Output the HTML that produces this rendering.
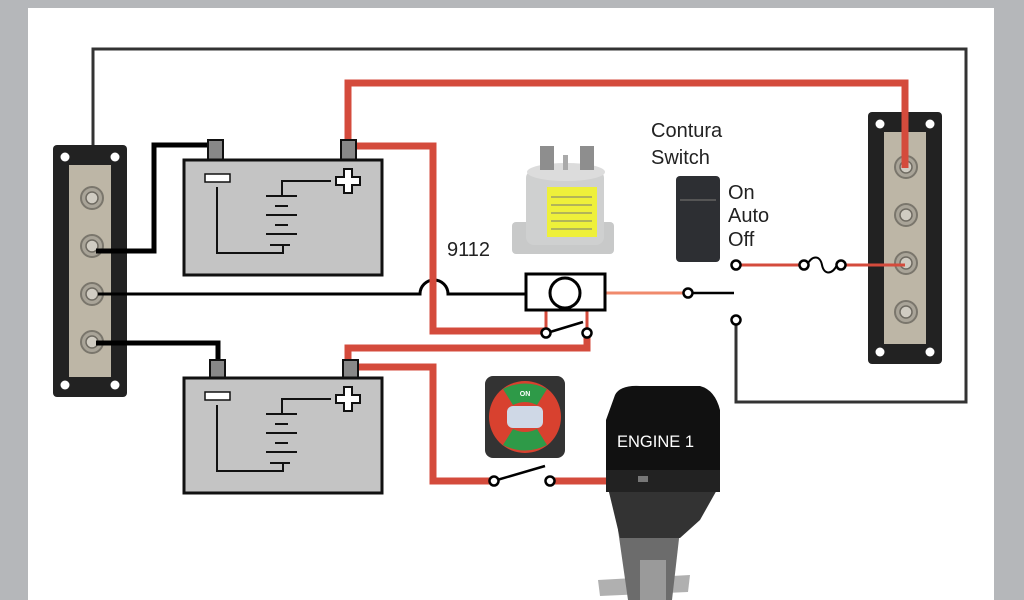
<!DOCTYPE html>
<html><head><meta charset="utf-8"><style>
html,body{margin:0;padding:0;background:#b5b7ba;}
svg{display:block;}
text{font-family:"Liberation Sans",sans-serif;}
</style></head><body>
<svg width="1024" height="600" viewBox="0 0 1024 600" xmlns="http://www.w3.org/2000/svg">
<defs>
<g id="bat">
  <rect x="0" y="0" width="198" height="115" fill="#c4c4c4" stroke="#111" stroke-width="3"/>
  <rect x="21" y="14" width="25" height="8" fill="#fff" stroke="#111" stroke-width="1.5"/>
  <polyline points="33,27 33,93 99,93 99,85" fill="none" stroke="#111" stroke-width="2"/>
  <line x1="86" y1="85" x2="106" y2="85" stroke="#111" stroke-width="2"/>
  <line x1="82" y1="36" x2="113" y2="36" stroke="#111" stroke-width="2"/>
  <line x1="91" y1="46" x2="104" y2="46" stroke="#111" stroke-width="2"/>
  <line x1="82" y1="55" x2="113" y2="55" stroke="#111" stroke-width="2"/>
  <line x1="91" y1="65" x2="104" y2="65" stroke="#111" stroke-width="2"/>
  <line x1="82" y1="74" x2="113" y2="74" stroke="#111" stroke-width="2"/>
  <polyline points="98,36 98,21 147,21" fill="none" stroke="#111" stroke-width="2"/>
  <path d="M160,9 h8 v8 h8 v8 h-8 v8 h-8 v-8 h-8 v-8 h8 z" fill="#fff" stroke="#111" stroke-width="2"/>
</g>
<g id="stud">
  <circle r="11" fill="#a9a498" stroke="#7a766c" stroke-width="2"/>
  <circle r="6" fill="#d0ccc2" stroke="#6f6b62" stroke-width="1.5"/>
</g>
<g id="bus">
  <rect x="0" y="0" width="74" height="252" rx="4" fill="#222"/>
  <rect x="16" y="20" width="42" height="212" fill="#bdb6a6"/>
  <circle cx="12" cy="12" r="4.5" fill="#fff"/><circle cx="62" cy="12" r="4.5" fill="#fff"/>
  <circle cx="12" cy="240" r="4.5" fill="#fff"/><circle cx="62" cy="240" r="4.5" fill="#fff"/>
</g>
</defs>
<rect x="28" y="8" width="966" height="592" fill="#fff"/>

<polyline points="93,165 93,49 966,49 966,402 736,402 736,325" fill="none" stroke="#333" stroke-width="3"/>

<use href="#bus" x="53" y="145"/>
<use href="#stud" x="92" y="198"/><use href="#stud" x="92" y="246"/><use href="#stud" x="92" y="294"/><use href="#stud" x="92" y="342"/>
<use href="#bus" x="868" y="112"/>
<use href="#stud" x="906" y="167"/><use href="#stud" x="906" y="215"/><use href="#stud" x="906" y="263"/><use href="#stud" x="906" y="312"/>

<polyline points="96,251 154,251 154,145 212,145" fill="none" stroke="#000" stroke-width="5"/>
<polyline points="96,343 218,343 218,362" fill="none" stroke="#000" stroke-width="5"/>
<path d="M98,294 H420 A14,14 0 0 1 448,294 H525" fill="none" stroke="#000" stroke-width="3"/>

<g fill="none" stroke="#d44b3c" stroke-width="7">
<polyline points="348,142 348,83 905,83 905,168"/>
<polyline points="356,146 433,146 433,331 545,331"/>
<polyline points="348,362 348,348 587,348 587,333"/>
<polyline points="356,367 433,367 433,481 493,481"/>
<line x1="550" y1="481" x2="606" y2="481"/>
</g>
<g stroke="#d44b3c" stroke-width="3">
<line x1="546" y1="310" x2="546" y2="330"/><line x1="587" y1="310" x2="587" y2="330"/>
<line x1="740" y1="265" x2="800" y2="265"/><line x1="843" y1="265" x2="905" y2="265"/>
</g>
<line x1="581" y1="293" x2="684" y2="293" stroke="#f08a6c" stroke-width="3"/>

<rect x="208" y="140" width="15" height="21" fill="#888" stroke="#111" stroke-width="2"/>
<rect x="341" y="140" width="15" height="21" fill="#888" stroke="#111" stroke-width="2"/>
<use href="#bat" x="184" y="160"/>
<rect x="210" y="360" width="15" height="19" fill="#888" stroke="#111" stroke-width="2"/>
<rect x="343" y="360" width="15" height="19" fill="#888" stroke="#111" stroke-width="2"/>
<use href="#bat" x="184" y="378"/>

<rect x="526" y="274" width="79" height="36" fill="#fff" stroke="#000" stroke-width="3"/>
<circle cx="565" cy="293" r="15" fill="#fff" stroke="#000" stroke-width="3"/>
<line x1="550" y1="332" x2="583" y2="322" stroke="#000" stroke-width="2.5"/>
<circle cx="546" cy="333" r="4.5" fill="#fff" stroke="#000" stroke-width="2.5"/>
<circle cx="587" cy="333" r="4.5" fill="#fff" stroke="#000" stroke-width="2.5"/>

<line x1="692" y1="293" x2="734" y2="293" stroke="#000" stroke-width="2.5"/>
<circle cx="688" cy="293" r="4.5" fill="#fff" stroke="#000" stroke-width="2.5"/>
<circle cx="736" cy="265" r="4.5" fill="#fff" stroke="#000" stroke-width="2.5"/>
<circle cx="736" cy="320" r="4.5" fill="#fff" stroke="#000" stroke-width="2.5"/>
<path d="M807,265 C812,255 820,255 822,265 C824,275 832,275 837,265" fill="none" stroke="#000" stroke-width="2"/>
<circle cx="804" cy="265" r="4.5" fill="#fff" stroke="#000" stroke-width="2.5"/>
<circle cx="841" cy="265" r="4.5" fill="#fff" stroke="#000" stroke-width="2.5"/>

<line x1="497" y1="480" x2="545" y2="466" stroke="#000" stroke-width="2.5"/>
<circle cx="494" cy="481" r="4.5" fill="#fff" stroke="#000" stroke-width="2.5"/>
<circle cx="550" cy="481" r="4.5" fill="#fff" stroke="#000" stroke-width="2.5"/>

<!-- relay image -->
<rect x="512" y="222" width="102" height="32" rx="4" fill="#c8c9c9"/>
<rect x="526" y="170" width="78" height="75" rx="8" fill="#cfd0d0"/>
<ellipse cx="566" cy="172" rx="39" ry="9" fill="#dcdcdc"/>
<rect x="540" y="146" width="14" height="24" fill="#8e8e8e"/><rect x="580" y="146" width="14" height="24" fill="#8e8e8e"/>
<rect x="563" y="155" width="5" height="15" fill="#aaa"/>
<rect x="547" y="187" width="50" height="50" fill="#eef03a"/>
<g stroke="#777" stroke-width="1"><line x1="551" y1="197" x2="592" y2="197"/><line x1="551" y1="205" x2="592" y2="205"/><line x1="551" y1="213" x2="592" y2="213"/><line x1="551" y1="221" x2="592" y2="221"/><line x1="551" y1="229" x2="592" y2="229"/></g>

<rect x="676" y="176" width="44" height="86" rx="4" fill="#2d2f33"/>
<line x1="680" y1="200" x2="716" y2="200" stroke="#555" stroke-width="2"/>

<rect x="485" y="376" width="80" height="82" rx="8" fill="#333"/>
<circle cx="525" cy="417" r="36" fill="#d8412f"/>
<path d="M503,389 Q525,378 547,389 L537,405 Q525,399 513,405 Z" fill="#2e9a48"/>
<path d="M503,445 Q525,456 547,445 L537,429 Q525,435 513,429 Z" fill="#2e9a48"/>
<rect x="507" y="406" width="36" height="22" rx="6" fill="#cfd8e6"/>
<text x="525" y="396" font-size="7" fill="#fff" text-anchor="middle" font-weight="bold">ON</text>

<!-- engine -->
<path d="M598,580 L690,575 L688,592 L600,596 Z" fill="#b0b0b0"/>
<path d="M618,530 L680,530 L672,600 L628,600 Z" fill="#6c6c6c"/>
<rect x="640" y="560" width="26" height="40" fill="#9a9a9a"/>
<path d="M608,488 L718,488 L700,520 L680,538 L620,538 Z" fill="#333"/>
<path d="M615,395 Q620,385 640,386 L700,386 Q715,390 720,410 L720,488 L606,490 L606,420 Z" fill="#111"/>
<rect x="606" y="470" width="114" height="22" fill="#222"/>
<rect x="638" y="476" width="10" height="6" fill="#777"/>
<text x="617" y="447" font-size="16.5" fill="#fff">ENGINE 1</text>

<text x="447" y="256" font-size="20" fill="#222">9112</text>
<text x="651" y="137" font-size="20" fill="#222">Contura</text>
<text x="651" y="164" font-size="20" fill="#222">Switch</text>
<text x="728" y="199" font-size="20" fill="#222">On</text>
<text x="728" y="222" font-size="20" fill="#222">Auto</text>
<text x="728" y="246" font-size="20" fill="#222">Off</text>
</svg>
</body></html>
